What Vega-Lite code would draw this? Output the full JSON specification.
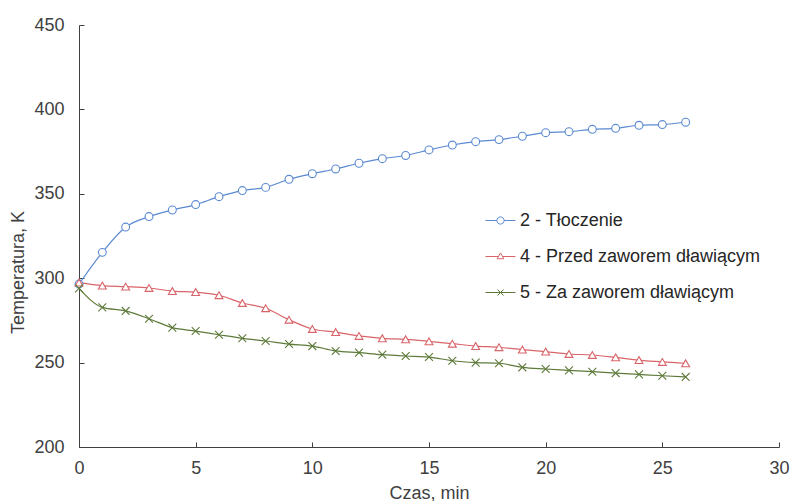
{
  "$schema": "https://vega.github.io/schema/vega-lite/v6.json",
  "width": 700,
  "height": 422,
  "autosize": {"type": "none"},
  "padding": {"left": 79, "top": 25, "right": 11, "bottom": 54},
  "background": "white",
  "config": {
    "view": {"stroke": null},
    "font": "Liberation Sans",
    "axis": {"grid": false, "domainColor": "#404040", "tickColor": "#404040", "labelColor": "#404040", "labelFontSize": 18, "titleFontSize": 18, "titleFontWeight": "normal", "titleColor": "#404040", "labelFont": "Liberation Sans", "titleFont": "Liberation Sans"}
  },
  "datasets": {
    "d": [
      {"t": 0, "s": "2 - Tłoczenie", "T": 296.5},
      {"t": 1, "s": "2 - Tłoczenie", "T": 315.3},
      {"t": 2, "s": "2 - Tłoczenie", "T": 330.3},
      {"t": 3, "s": "2 - Tłoczenie", "T": 336.5},
      {"t": 4, "s": "2 - Tłoczenie", "T": 340.4},
      {"t": 5, "s": "2 - Tłoczenie", "T": 343.6},
      {"t": 6, "s": "2 - Tłoczenie", "T": 348.3},
      {"t": 7, "s": "2 - Tłoczenie", "T": 351.9},
      {"t": 8, "s": "2 - Tłoczenie", "T": 353.8},
      {"t": 9, "s": "2 - Tłoczenie", "T": 358.6},
      {"t": 10, "s": "2 - Tłoczenie", "T": 361.9},
      {"t": 11, "s": "2 - Tłoczenie", "T": 364.7},
      {"t": 12, "s": "2 - Tłoczenie", "T": 368.1},
      {"t": 13, "s": "2 - Tłoczenie", "T": 370.8},
      {"t": 14, "s": "2 - Tłoczenie", "T": 372.7},
      {"t": 15, "s": "2 - Tłoczenie", "T": 376.0},
      {"t": 16, "s": "2 - Tłoczenie", "T": 378.9},
      {"t": 17, "s": "2 - Tłoczenie", "T": 380.9},
      {"t": 18, "s": "2 - Tłoczenie", "T": 382.1},
      {"t": 19, "s": "2 - Tłoczenie", "T": 384.1},
      {"t": 20, "s": "2 - Tłoczenie", "T": 386.2},
      {"t": 21, "s": "2 - Tłoczenie", "T": 386.8},
      {"t": 22, "s": "2 - Tłoczenie", "T": 388.2},
      {"t": 23, "s": "2 - Tłoczenie", "T": 388.8},
      {"t": 24, "s": "2 - Tłoczenie", "T": 390.6},
      {"t": 25, "s": "2 - Tłoczenie", "T": 391.0},
      {"t": 26, "s": "2 - Tłoczenie", "T": 392.4},
      {"t": 0, "s": "4 - Przed zaworem dławiącym", "T": 297.4},
      {"t": 1, "s": "4 - Przed zaworem dławiącym", "T": 295.6},
      {"t": 2, "s": "4 - Przed zaworem dławiącym", "T": 295.0},
      {"t": 3, "s": "4 - Przed zaworem dławiącym", "T": 294.2},
      {"t": 4, "s": "4 - Przed zaworem dławiącym", "T": 292.4},
      {"t": 5, "s": "4 - Przed zaworem dławiącym", "T": 291.8},
      {"t": 6, "s": "4 - Przed zaworem dławiącym", "T": 289.9},
      {"t": 7, "s": "4 - Przed zaworem dławiącym", "T": 285.3},
      {"t": 8, "s": "4 - Przed zaworem dławiącym", "T": 282.2},
      {"t": 9, "s": "4 - Przed zaworem dławiącym", "T": 275.4},
      {"t": 10, "s": "4 - Przed zaworem dławiącym", "T": 269.9},
      {"t": 11, "s": "4 - Przed zaworem dławiącym", "T": 268.1},
      {"t": 12, "s": "4 - Przed zaworem dławiącym", "T": 265.8},
      {"t": 13, "s": "4 - Przed zaworem dławiącym", "T": 264.4},
      {"t": 14, "s": "4 - Przed zaworem dławiącym", "T": 263.8},
      {"t": 15, "s": "4 - Przed zaworem dławiącym", "T": 262.6},
      {"t": 16, "s": "4 - Przed zaworem dławiącym", "T": 261.2},
      {"t": 17, "s": "4 - Przed zaworem dławiącym", "T": 259.8},
      {"t": 18, "s": "4 - Przed zaworem dławiącym", "T": 259.1},
      {"t": 19, "s": "4 - Przed zaworem dławiącym", "T": 257.7},
      {"t": 20, "s": "4 - Przed zaworem dławiącym", "T": 256.5},
      {"t": 21, "s": "4 - Przed zaworem dławiącym", "T": 255.1},
      {"t": 22, "s": "4 - Przed zaworem dławiącym", "T": 254.5},
      {"t": 23, "s": "4 - Przed zaworem dławiącym", "T": 253.1},
      {"t": 24, "s": "4 - Przed zaworem dławiącym", "T": 251.5},
      {"t": 25, "s": "4 - Przed zaworem dławiącym", "T": 250.4},
      {"t": 26, "s": "4 - Przed zaworem dławiącym", "T": 249.6},
      {"t": 0, "s": "5 - Za zaworem dławiącym", "T": 294.0},
      {"t": 1, "s": "5 - Za zaworem dławiącym", "T": 282.7},
      {"t": 2, "s": "5 - Za zaworem dławiącym", "T": 280.6},
      {"t": 3, "s": "5 - Za zaworem dławiącym", "T": 276.0},
      {"t": 4, "s": "5 - Za zaworem dławiącym", "T": 270.7},
      {"t": 5, "s": "5 - Za zaworem dławiącym", "T": 268.7},
      {"t": 6, "s": "5 - Za zaworem dławiącym", "T": 266.5},
      {"t": 7, "s": "5 - Za zaworem dławiącym", "T": 264.4},
      {"t": 8, "s": "5 - Za zaworem dławiącym", "T": 262.8},
      {"t": 9, "s": "5 - Za zaworem dławiącym", "T": 261.0},
      {"t": 10, "s": "5 - Za zaworem dławiącym", "T": 259.8},
      {"t": 11, "s": "5 - Za zaworem dławiącym", "T": 256.9},
      {"t": 12, "s": "5 - Za zaworem dławiącym", "T": 255.9},
      {"t": 13, "s": "5 - Za zaworem dławiącym", "T": 254.7},
      {"t": 14, "s": "5 - Za zaworem dławiącym", "T": 253.9},
      {"t": 15, "s": "5 - Za zaworem dławiącym", "T": 253.3},
      {"t": 16, "s": "5 - Za zaworem dławiącym", "T": 251.1},
      {"t": 17, "s": "5 - Za zaworem dławiącym", "T": 250.0},
      {"t": 18, "s": "5 - Za zaworem dławiącym", "T": 249.6},
      {"t": 19, "s": "5 - Za zaworem dławiącym", "T": 247.2},
      {"t": 20, "s": "5 - Za zaworem dławiącym", "T": 246.2},
      {"t": 21, "s": "5 - Za zaworem dławiącym", "T": 245.4},
      {"t": 22, "s": "5 - Za zaworem dławiącym", "T": 244.6},
      {"t": 23, "s": "5 - Za zaworem dławiącym", "T": 243.8},
      {"t": 24, "s": "5 - Za zaworem dławiącym", "T": 243.0},
      {"t": 25, "s": "5 - Za zaworem dławiącym", "T": 242.2},
      {"t": 26, "s": "5 - Za zaworem dławiącym", "T": 241.5}
    ]
  },
  "data": {"name": "d"},
  "encoding": {
    "x": {"field": "t", "type": "quantitative", "scale": {"domain": [0, 30], "nice": false, "zero": false},
      "axis": {"title": "Czas, min", "values": [0, 5, 10, 15, 20, 25, 30], "tickSize": -5, "labelPadding": 17, "titleBaseline": "middle", "titleY": 46, "labelFlush": false}},
    "y": {"field": "T", "type": "quantitative", "scale": {"domain": [200, 450], "nice": false, "zero": false},
      "axis": {"title": "Temperatura, K", "values": [200, 250, 300, 350, 400, 450], "tickSize": -5, "labelPadding": 20, "titleBaseline": "middle", "titleAlign": "center", "titleX": -61, "titleY": 247, "titleAngle": -90, "labelFlush": false}}
  },
  "layer": [
    {
      "transform": [{"filter": "datum.s === '2 - Tłoczenie'"}],
      "mark": {"type": "line", "interpolate": "monotone", "strokeWidth": 1.2, "stroke": "#5b8ad2"},
      "encoding": {}
    },
    {
      "transform": [{"filter": "datum.s === '4 - Przed zaworem dławiącym'"}],
      "mark": {"type": "line", "interpolate": "monotone", "strokeWidth": 1.2, "stroke": "#d9656a"},
      "encoding": {}
    },
    {
      "transform": [{"filter": "datum.s === '5 - Za zaworem dławiącym'"}],
      "mark": {"type": "line", "interpolate": "monotone", "strokeWidth": 1.2, "stroke": "#5e7a3a"},
      "encoding": {}
    },
    {
      "transform": [{"filter": "datum.s === '2 - Tłoczenie'"}],
      "mark": {"type": "point", "shape": "circle", "filled": false, "fill": "white", "fillOpacity": 1, "opacity": 1, "strokeWidth": 1.1, "size": 62, "stroke": "#5b8ad2"}
    },
    {
      "transform": [{"filter": "datum.s === '4 - Przed zaworem dławiącym'"}],
      "mark": {"type": "point", "shape": "triangle-up", "filled": false, "fill": "white", "fillOpacity": 1, "opacity": 1, "strokeWidth": 1.1, "size": 62, "stroke": "#d9656a"}
    },
    {
      "transform": [{"filter": "datum.s === '5 - Za zaworem dławiącym'"}],
      "mark": {"type": "point", "shape": "M-1,-1L1,1M-1,1L1,-1", "filled": false, "opacity": 1, "strokeWidth": 1.1, "size": 62, "stroke": "#5e7a3a"}
    },
    {
      "mark": {"type": "point", "filled": false, "strokeOpacity": 0, "fillOpacity": 0, "strokeWidth": 1},
      "encoding": {
        "color": {"field": "s", "type": "nominal",
          "scale": {"domain": ["2 - Tłoczenie", "4 - Przed zaworem dławiącym", "5 - Za zaworem dławiącym"], "range": ["#5b8ad2", "#d9656a", "#5e7a3a"]},
          "legend": {"title": null, "orient": "none", "legendX": 406, "legendY": 180, "symbolSize": 900, "symbolStrokeWidth": 1, "labelFontSize": 18, "labelColor": "#262626", "labelFont": "Liberation Sans", "rowPadding": 11, "labelOffset": 4, "labelLimit": 400}},
        "shape": {"field": "s", "type": "nominal",
          "scale": {"domain": ["2 - Tłoczenie", "4 - Przed zaworem dławiącym", "5 - Za zaworem dławiącym"], "range": ["M-1,0H-0.24M0.24,0H1M0.24,0A0.24,0.24 0 1,1 -0.24,0A0.24,0.24 0 1,1 0.24,0", "M-1,0H-0.15M0.15,0H1M0,-0.24L0.22,0.15L-0.22,0.15Z", "M-1,0H1M-0.2,-0.2L0.2,0.2M-0.2,0.2L0.2,-0.2"]},
          "legend": {"title": null, "orient": "none", "legendX": 406, "legendY": 180, "symbolSize": 900, "symbolStrokeWidth": 1, "labelFontSize": 18, "labelColor": "#262626", "labelFont": "Liberation Sans", "rowPadding": 11, "labelOffset": 4, "labelLimit": 400}}
      }
    }
  ]
}
